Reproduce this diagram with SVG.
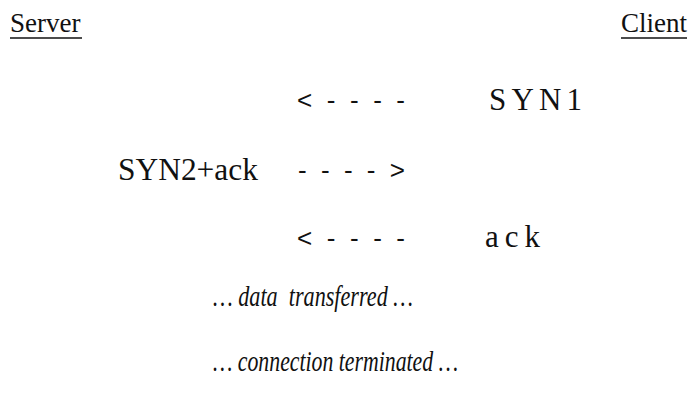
<svg xmlns="http://www.w3.org/2000/svg" width="693" height="405" viewBox="0 0 693 405">
<style>
.h{font-family:"Liberation Serif","Times New Roman",serif;font-size:27px;fill:#111}
.t{font-family:"Liberation Serif","Times New Roman",serif;font-size:31px;fill:#111}
.i{font-family:"Liberation Serif","Times New Roman",serif;font-size:29px;font-style:italic;fill:#111}
.a{font-family:"Liberation Sans",Arial,sans-serif;font-size:26px;fill:#111}
.u{stroke:#111;stroke-width:1.6}
</style>
<rect width="693" height="405" fill="#fff"/>
<g id="server"><text class="h" x="10" y="32">Server</text><line class="u" x1="10" y1="38" x2="82" y2="38"/></g>
<g id="client"><text class="h" x="621" y="32">Client</text><line class="u" x1="621" y1="38" x2="687" y2="38"/></g>
<g id="syn1"><text class="t" x="489" y="110" textLength="93" lengthAdjust="spacing">SYN1</text></g>
<g id="syn2ack"><text class="t" x="118" y="180" textLength="140" lengthAdjust="spacingAndGlyphs">SYN2+ack</text></g>
<g id="ack"><text class="t" x="485" y="247" textLength="55" lengthAdjust="spacing">ack</text></g>
<g id="connectors">
<text class="a" x="297" y="109" textLength="108" lengthAdjust="spacing">&lt; - - - -</text>
<text class="a" x="298" y="179" textLength="107" lengthAdjust="spacing">- - - - &gt;</text>
<text class="a" x="297" y="247" textLength="108" lengthAdjust="spacing">&lt; - - - -</text>
</g>
<g id="data"><text class="i" x="213" y="306" textLength="200" lengthAdjust="spacingAndGlyphs" xml:space="preserve">… data  transferred …</text></g>
<g id="term"><text class="i" x="213" y="371" textLength="245" lengthAdjust="spacingAndGlyphs">… connection terminated …</text></g>
</svg>
